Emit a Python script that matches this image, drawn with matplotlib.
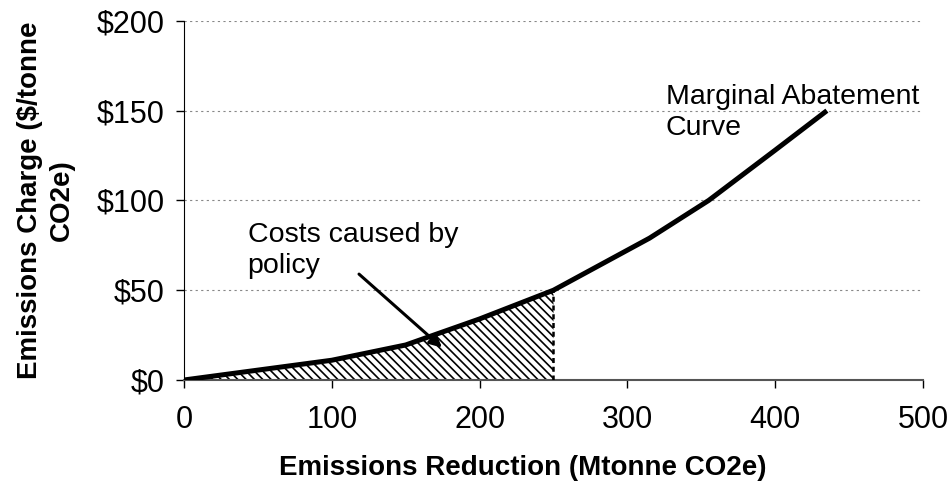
import matplotlib
matplotlib.use("Agg")
import matplotlib.pyplot as plt
from matplotlib.ticker import FuncFormatter

plt.rcParams['font.family'] = ['Liberation Sans', 'DejaVu Sans']
plt.rcParams['hatch.linewidth'] = 1.2

# Data
reduction = [0, 100, 150, 200, 250, 315, 355, 400, 435]
charge = [0, 11, 19.5, 34, 50, 79, 100, 128, 150]
policy_level = 250
x_ticks = [0, 100, 200, 300, 400, 500]
y_ticks = [0, 50, 100, 150, 200]

fig = plt.figure(figsize=(9.51, 4.96), dpi=100)
ax = fig.add_axes([0.1935, 0.2339, 0.777, 0.724])

ax.plot(reduction, charge, color='black', lw=3.6, solid_capstyle='butt', zorder=3)

fx = [x for x in reduction if x <= policy_level]
fy = charge[:len(fx)]
ax.fill_between(fx, 0, fy, facecolor='white', edgecolor='black', hatch='\\\\\\\\', lw=0, zorder=2)
ax.plot([policy_level, policy_level], [0, fy[-1]], color='black', lw=1.8, ls=(0, (2, 1.5)), zorder=3)

ax.set_xlim(0, 500)
ax.set_ylim(0, 200)
ax.set_xticks(x_ticks)
ax.set_yticks(y_ticks)
ax.yaxis.set_major_formatter(FuncFormatter(lambda v, p: f"${v:.0f}"))
ax.tick_params(axis='both', labelsize=22, length=6, width=1, direction='out', colors='black')
ax.tick_params(axis='x', pad=12)
ax.tick_params(axis='y', pad=8)

for y in y_ticks[1:]:
    ax.axhline(y, color='#888888', lw=0.8, ls=(0, (2, 3)), zorder=1)

ax.spines['top'].set_visible(False)
ax.spines['right'].set_visible(False)
ax.spines['left'].set_color('black')
ax.spines['bottom'].set_color('#555555')
ax.spines['bottom'].set_linewidth(1.5)

ax.set_xlabel('Emissions Reduction (Mtonne CO2e)', fontsize=20, fontweight='bold')
ax.xaxis.set_label_coords(0.459, -0.21)
ax.set_ylabel('Emissions Charge ($/tonne\nCO2e)', fontsize=20, fontweight='bold', linespacing=1.3)
ax.yaxis.set_label_coords(-0.148, 0.5)

ax.text(326, 165, 'Marginal Abatement\nCurve', fontsize=20.5, va='top', ha='left', linespacing=1.25)
ax.text(43, 88, 'Costs caused by\npolicy', fontsize=20.5, va='top', ha='left', linespacing=1.25)
ax.annotate('', xy=(176, 17), xytext=(117, 60),
            arrowprops=dict(arrowstyle='-|>', color='black', lw=2.2, mutation_scale=18))

fig.savefig('out.png', dpi=100)
